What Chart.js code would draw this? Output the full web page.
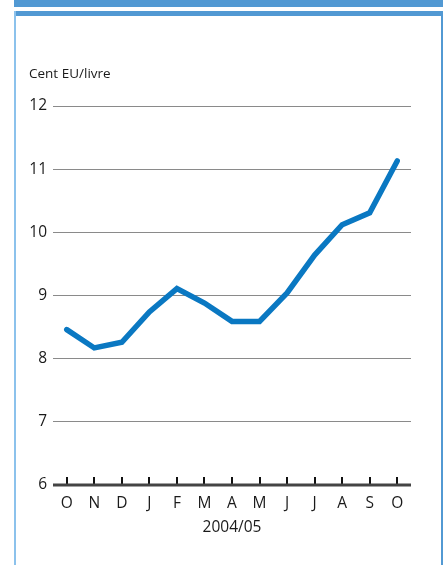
<!DOCTYPE html>
<html>
<head>
<meta charset="utf-8">
<script src="https://cdn.jsdelivr.net/npm/chart.js@4/dist/chart.umd.min.js"></script>
<style>
  html, body { margin: 0; padding: 0; background: #fff; }
  body { width: 446px; height: 565px; position: relative; overflow: hidden; font-family: "Open Sans", sans-serif; }
  .bar { position: absolute; background: #5299d3; }
  #topbar { left: 14px; top: 0; width: 429px; height: 7px; }
  #framebar { left: 14px; top: 11px; width: 429px; height: 5px; }
  #leftedge { left: 14px; top: 11px; width: 2px; height: 554px; background: #8cc2ec; }
  #rightedge { left: 441px; top: 11px; width: 2px; height: 554px; }
  #unit { position: absolute; left: 29px; top: 64px; font-size: 13.5px; color: #1a1a1a; white-space: nowrap; }
  #wrap { position: absolute; left: 0; top: 0; width: 446px; height: 565px; }
</style>
</head>
<body>
<div class="bar" id="topbar"></div>
<div class="bar" id="framebar"></div>
<div class="bar" id="leftedge"></div>
<div class="bar" id="rightedge"></div>
<div id="wrap"><canvas id="chart" width="446" height="565"></canvas></div>
<div id="unit">Cent EU/livre</div>
<script>
// Months from October 2004 to October 2005
const months = ["O", "N", "D", "J", "F", "M", "A", "M", "J", "J", "A", "S", "O"];
// Price, euro cents per pound
const prices = [8.46, 8.17, 8.26, 8.74, 9.11, 8.88, 8.59, 8.59, 9.04, 9.64, 10.12, 10.31, 11.13];
const yTicks = [6, 7, 8, 9, 10, 11, 12];
const periodLabel = "2004/05";

// Short upward tick marks standing on the base axis at each month
const monthTicks = {
  id: 'monthTicks',
  afterDatasetsDraw(chart) {
    const x = chart.scales.x, y = chart.scales.y;
    const base = y.getPixelForValue(yTicks[0]);
    const ctx = chart.ctx;
    ctx.save();
    ctx.strokeStyle = '#111';
    ctx.lineWidth = 2;
    months.forEach((m, i) => {
      const px = Math.round(x.getPixelForValue(i));
      ctx.beginPath();
      ctx.moveTo(px, base);
      ctx.lineTo(px, base - 8);
      ctx.stroke();
    });
    // heavy base axis
    ctx.strokeStyle = '#444';
    ctx.lineWidth = 3;
    ctx.beginPath();
    ctx.moveTo(chart.chartArea.left, base);
    ctx.lineTo(chart.chartArea.right, base);
    ctx.stroke();
    ctx.restore();
  }
};

new Chart(document.getElementById('chart'), {
  type: 'line',
  data: {
    labels: months,
    datasets: [{
      data: prices,
      borderColor: '#0a78c2',
      borderWidth: 5.5,
      pointRadius: 0,
      tension: 0,
      fill: false,
      borderCapStyle: 'round',
      borderJoinStyle: 'miter'
    }]
  },
  options: {
    responsive: false,
    animation: false,
    devicePixelRatio: 1,
    layout: { padding: { top: 106, right: 35, left: 0, bottom: 0 } },
    plugins: { legend: { display: false }, tooltip: { enabled: false } },
    scales: {
      x: {
        type: 'category',
        offset: true,
        grid: { display: false, drawTicks: false },
        border: { display: false },
        ticks: { color: '#1a1a1a', font: { family: 'Open Sans', size: 15.5 }, padding: 9, maxRotation: 0, autoSkip: false },
        title: { display: true, text: periodLabel, color: '#1a1a1a', font: { family: 'Open Sans', size: 15.5 }, padding: { top: 4, bottom: 28 } },
        afterFit(scale) { scale.height = 80; }
      },
      y: {
        min: 6, max: 12,
        afterBuildTicks(scale) { scale.ticks = yTicks.map(v => ({ value: v })); },
        grid: { color: '#8a8a8a', lineWidth: 1, drawTicks: false },
        border: { display: false },
        ticks: { color: '#1a1a1a', font: { family: 'Open Sans', size: 15.5 }, padding: 6 },
        afterFit(scale) { scale.width = 53; }
      }
    }
  },
  plugins: [monthTicks]
});
</script>
</body>
</html>
